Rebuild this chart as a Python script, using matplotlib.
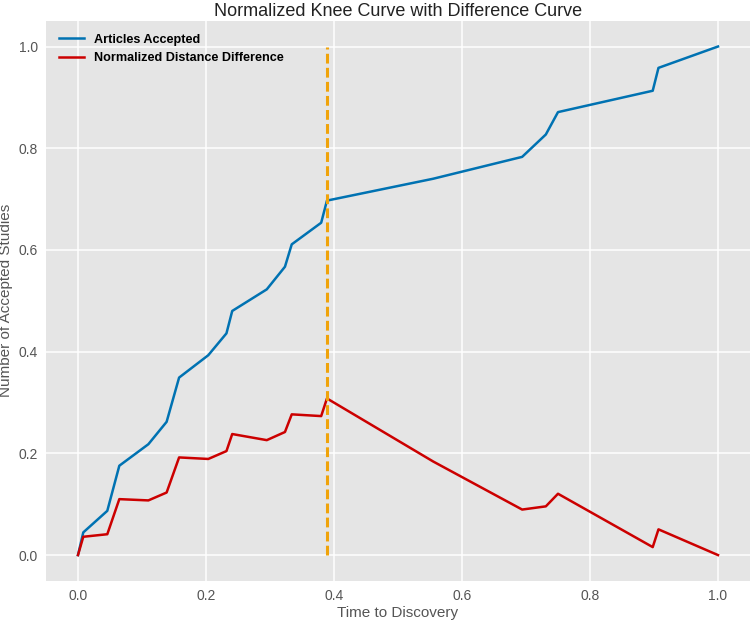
import matplotlib
matplotlib.use("Agg")
import matplotlib.pyplot as plt

# Data
x_vals = [0.0, 0.0083, 0.0458, 0.0646, 0.110, 0.1385, 0.158, 0.2036, 0.232, 0.241,
          0.295, 0.3234, 0.334, 0.380, 0.389, 0.555, 0.694, 0.731, 0.750, 0.898,
          0.907, 1.0]
accepted = [0.0, 0.0446, 0.087, 0.1757, 0.218, 0.262, 0.349, 0.393, 0.436, 0.480,
            0.5225, 0.567, 0.611, 0.6535, 0.697, 0.740, 0.783, 0.827, 0.871, 0.913,
            0.958, 1.0]
difference = [0.0, 0.036, 0.041, 0.110, 0.1075, 0.123, 0.192, 0.189, 0.2045, 0.238,
              0.226, 0.242, 0.2767, 0.2733, 0.308, 0.184, 0.0895, 0.0958, 0.1206, 0.0157,
              0.0506, 0.0]
knee_x = 0.389

plt.rcParams['font.family'] = ['Liberation Sans', 'DejaVu Sans']

fig = plt.figure(figsize=(7.5, 6.2), dpi=100)
ax = fig.add_axes([0.0613, 0.0637, 0.9387, 0.9023])
ax.set_facecolor('#E5E5E5')
for s in ax.spines.values():
    s.set_visible(False)
ax.grid(True, color='white', linewidth=1.1)
ax.set_axisbelow(True)

ax.plot(x_vals, accepted, color='#0072B2', linewidth=1.8, label='Articles Accepted')
ax.plot(x_vals, difference, color='#CC0000', linewidth=1.8, label='Normalized Distance Difference')
ax.vlines(knee_x, 0, 1, colors='#F0A30A', linestyles=(0, (3.2, 1.4)), linewidth=2.2)

ax.set_xlim(-0.05, 1.05)
ax.set_ylim(-0.05, 1.05)
ax.set_xticks([0.0, 0.2, 0.4, 0.6, 0.8, 1.0])
ax.set_yticks([0.0, 0.2, 0.4, 0.6, 0.8, 1.0])
ax.tick_params(length=0, labelsize=10, labelcolor='#555555', pad=6)

ax.set_title('Normalized Knee Curve with Difference Curve', fontsize=13, color='#222222', pad=4)
ax.set_xlabel('Time to Discovery', fontsize=11, color='#555555', labelpad=2)
ax.set_ylabel('Number of Accepted Studies', fontsize=11, color='#555555', labelpad=4)

leg = ax.legend(loc='upper left', frameon=False, prop={'weight': 'bold', 'size': 9.1},
                handlelength=2.0, borderaxespad=0.6)

fig.savefig('out.png', dpi=100)
